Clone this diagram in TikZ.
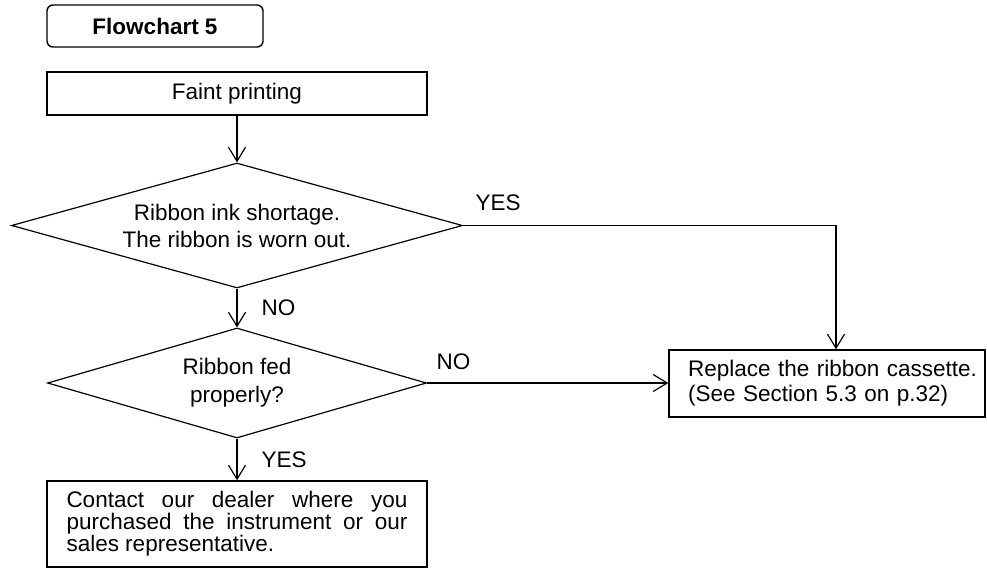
\documentclass[tikz,border=0pt]{standalone}
\usepackage{fontspec}
\setmainfont{Liberation Sans}
\usetikzlibrary{shapes.geometric,arrows.meta}
\newcommand{\diafont}{\fontsize{22.5}{27}\selectfont}
\begin{document}
\begin{tikzpicture}[x=1pt,y=-1pt,line width=1.2pt,
  box/.style={draw,rectangle,line width=1.4pt,inner sep=0pt,font=\diafont},
  titlebox/.style={box,rounded corners=6pt,font=\diafont\bfseries},
  dec/.style={draw,diamond,inner sep=0pt,font=\diafont,align=center},
  arr/.style={-{Straight Barb[length=14pt,width=17pt]}},
  lab/.style={font=\diafont,inner sep=0pt}]
\useasboundingbox (0,0) rectangle (987,568);
\node[titlebox,minimum width=216pt,minimum height=42pt] (title) at (155,26) {Flowchart 5};
\node[box,minimum width=380pt,minimum height=43pt] (faint) at (237,93.5) {Faint printing};
\node[dec,shape aspect=3.6,minimum width=451pt,minimum height=125pt] (d1) at (237,225.5)
  {Ribbon ink shortage.\\The ribbon is worn out.};
\node[dec,shape aspect=3.45,minimum width=379pt,minimum height=110pt,font={\fontsize{22.5}{28}\selectfont}] (d2) at (237,383)
  {Ribbon fed\\properly?};
\node[box,minimum width=380pt,minimum height=86pt,text width=341pt,align=justify,
  font={\fontsize{22.5}{22}\selectfont\hyphenpenalty=10000}] (contact) at (237,524)
  {Contact our dealer where you\linebreak purchased the instrument or our\linebreak sales representative.};
\node[box,minimum width=316pt,minimum height=67pt,text width=316pt,align=left,
  font={\fontsize{22.5}{25}\selectfont}] (rep) at (827,383.5)
  {\hspace*{19pt}Replace the ribbon cassette.\\\hspace*{19pt}(See Section 5.3 on p.32)};
\coordinate (ycol) at (836,0);
\draw[arr] (faint) -- (d1);
\draw[arr] (d1) -- node[lab,anchor=west,xshift=24pt]{NO} (d2);
\draw[arr] (d2) -- node[lab,anchor=west,xshift=24pt]{YES} (contact);
\draw[arr] (d1.east) -| (ycol |- rep.north);
\node[lab,anchor=west] (yes1) at ([xshift=12pt,yshift=23pt]d1.east) {YES};
\draw[arr] (d2.east) -- (d2.east -| rep.west);
\node[lab,anchor=west] (no2) at ([xshift=9pt,yshift=21pt]d2.east) {NO};
\end{tikzpicture}
\end{document}
